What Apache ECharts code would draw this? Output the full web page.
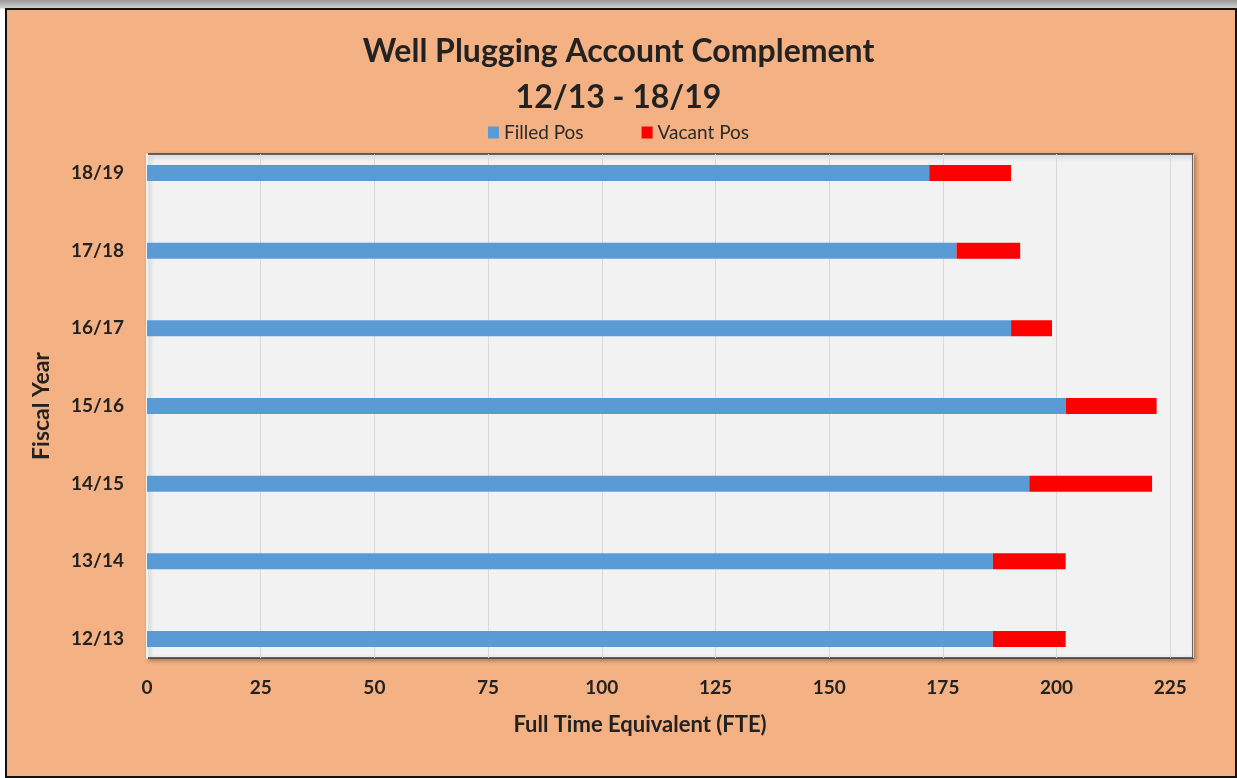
<!DOCTYPE html>
<html><head><meta charset="utf-8">
<script src="https://cdn.jsdelivr.net/npm/echarts@6/dist/echarts.min.js"></script>
<style>
html,body{margin:0;padding:0;width:1237px;height:778px;overflow:hidden;
background:linear-gradient(to bottom,#9a9a9a 0px,#d0d0d0 8px,#ffffff 9px);}
#frame{position:absolute;left:5px;top:8px;width:1228px;height:766px;border:2px solid #111;background:#F4B183;}
#chart{position:absolute;left:0;top:0;width:1237px;height:778px;}
</style></head>
<body><div id="frame"></div><div id="chart"></div>
<script>
const categories = ['12/13','13/14','14/15','15/16','16/17','17/18','18/19'];
const filledPos = [186, 186, 194, 202, 190, 178, 172];
const vacantPos = [16, 16, 27, 20, 9, 14, 18];
const xTicks = [0,25,50,75,100,125,150,175,200,225];

const FONT = 'Lato';
const TXT = '#222';
const chart = echarts.init(document.getElementById('chart'), null, {renderer:'canvas'});
chart.setOption({
  backgroundColor: 'transparent',
  animation: false,
  title: [
    {text:'Well Plugging Account Complement', left:'center', top:31,
     textStyle:{fontFamily:FONT, fontWeight:'bold', fontSize:32, color:TXT}},
    {text:'12/13 - 18/19', left:'center', top:77,
     textStyle:{fontFamily:FONT, fontWeight:'bold', fontSize:32, color:TXT}}
  ],
  legend: {
    top: 118, left: 'center', itemWidth: 11, itemHeight: 12, itemGap: 58,
    icon: 'rect',
    textStyle: {fontFamily:FONT, fontSize:19, color:'#2a2a2a'},
    data: ['Filled Pos','Vacant Pos']
  },
  grid: [
    {left:147, right:44, top:154, bottom:120, show:true,
     backgroundColor:'#F2F2F2', borderColor:'#3a3a3a', borderWidth:1.5,
     shadowColor:'rgba(0,0,0,0.3)', shadowBlur:4, shadowOffsetX:2, shadowOffsetY:2},
    {left:147, right:44, top:173, bottom:139}
  ],
  xAxis: [
    {gridIndex:0, type:'value', min:0, max:230, interval:25,
     axisLine:{show:false}, axisTick:{show:false},
     splitLine:{show:true, lineStyle:{color:'#D9D9D9', width:1}},
     axisLabel:{fontFamily:FONT, fontWeight:'bold', fontSize:19, color:TXT, margin:20,
       showMaxLabel:false, formatter: v => xTicks.includes(v) ? String(v) : ''},
     name:'Full Time Equivalent (FTE)', nameLocation:'middle', nameGap:56,
     nameTextStyle:{fontFamily:FONT, fontWeight:'bold', fontSize:22, color:TXT, padding:[0,60,0,0]}},
    {gridIndex:1, type:'value', min:0, max:230, interval:25, show:false,
     splitLine:{show:false}}
  ],
  yAxis: [
    {gridIndex:0, type:'value', min:0, max:1,
     axisLine:{show:true, lineStyle:{color:'#F2F2F2', width:2}},
     axisTick:{show:false}, axisLabel:{show:false}, splitLine:{show:false},
     name:'Fiscal Year', nameLocation:'middle', nameGap:94, nameRotate:90,
     nameTextStyle:{fontFamily:FONT, fontWeight:'bold', fontSize:23, color:TXT}},
    {gridIndex:1, type:'category', data:categories, boundaryGap:false,
     axisLine:{show:false}, axisTick:{show:false}, splitLine:{show:false},
     axisLabel:{fontFamily:FONT, fontWeight:'bold', fontSize:19, color:TXT, margin:23}}
  ],
  series: [
    {name:'Filled Pos', type:'bar', stack:'total', data:filledPos, barWidth:16,
     xAxisIndex:1, yAxisIndex:1, itemStyle:{color:'#5B9BD5'}},
    {name:'Vacant Pos', type:'bar', stack:'total', data:vacantPos, barWidth:16,
     xAxisIndex:1, yAxisIndex:1, itemStyle:{color:'#FF0000'}}
  ]
});
</script></body></html>
